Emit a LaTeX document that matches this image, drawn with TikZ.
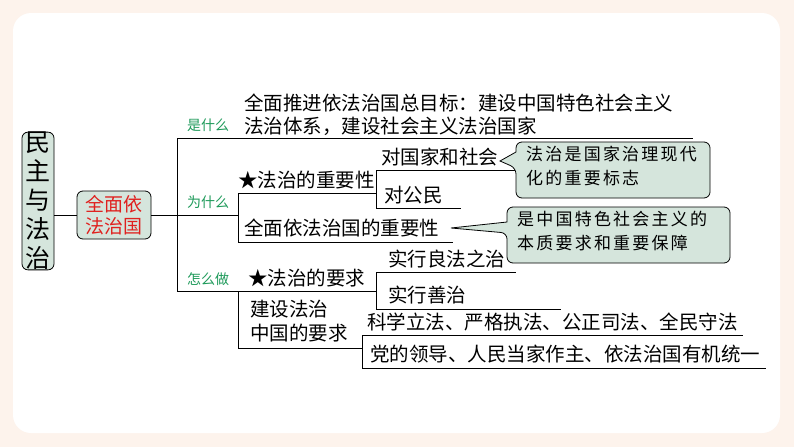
\documentclass[tikz,border=0pt]{standalone}
\usepackage{fontspec}
\setmainfont{Noto Sans CJK SC}
\definecolor{bg}{HTML}{FDF3EC}
\definecolor{boxg}{HTML}{D5E5DC}
\definecolor{lab}{HTML}{1E9A5A}
\definecolor{redt}{HTML}{E0201E}
\begin{document}
\begin{tikzpicture}[x=1pt,y=-1pt,
  t/.style={anchor=base west,inner sep=0,font=\fontsize{19.5}{22}\selectfont},
  lb/.style={anchor=base,inner sep=0,text=lab,font=\fontsize{14}{16}\selectfont},
  cl/.style={anchor=north west,inner sep=0,align=left,font=\fontsize{17}{24}\selectfont\addfontfeature{LetterSpace=13}},
  ln/.style={line width=0.9pt},
  bx/.style={draw,line width=0.8pt,fill=boxg,rounded corners=6pt}]
\fill[bg] (0,0) rectangle (794,447);
\fill[white,rounded corners=18pt] (13,13) rectangle (780,433);
\useasboundingbox (0,0) rectangle (794,447);
% root boxes
\node[bx,minimum width=32pt,minimum height=126pt,inner sep=0,
  font=\fontsize{25}{29}\selectfont,align=center] (root) at (38,201) {民\\主\\与\\法\\治};
\node[bx,minimum width=74pt,minimum height=48pt,inner sep=0,text=redt,
  font=\fontsize{19}{22}\selectfont,align=center] (qm) at (114,215) {全面依\\法治国};
\draw[ln] (root.east|-qm) -- (qm.west);
\coordinate (j) at (177,215);
\draw[ln] (qm.east) -- (j);
\draw[ln] (177,138) -- (177,291);
% top
\draw[ln] (177,138) -- (693,138);
\node[lb] (l1) at (208,130) {是什么};
\node[t] (g1) at (244,110) {全面推进依法治国总目标：建设中国特色社会主义};
\node[t] (g2) at (244,133) {法治体系，建设社会主义法治国家};
% middle
\node[lb] (l2) at (208,207) {为什么};
\draw[ln] (177,215) -- (238,215);
\draw[ln] (238,193) -- (238,242);
\draw[ln] (238,193) -- (376,193);
\draw[ln] (238,242) -- (453,242);
\node[t] (a1) at (238,187) {★法治的重要性};
\node[t] (a2) at (244,235) {全面依法治国的重要性};
\draw[ln] (376,170) -- (376,208);
\draw[ln] (376,170) -- (516,170);
\draw[ln] (376,208) -- (461,208);
\node[t] (b1) at (381,164) {对国家和社会};
\node[t] (b2) at (384,202) {对公民};
\draw[line width=0.8pt,fill=boxg,rounded corners=6pt]
  (516,152) -- (516,142) -- (710,142) -- (710,198) -- (516,198) -- (516,168)
  [sharp corners] -- (500,161) -- cycle;
\node[cl] (c1) at (526,146) {法治是国家治理现代\\化的重要标志};
\draw[line width=0.8pt,fill=boxg,rounded corners=6pt]
  (507,222) -- (507,207) -- (730,207) -- (730,263) -- (507,263) -- (507,233)
  [sharp corners] -- (451,228) -- cycle;
\node[cl] (c2) at (517,211) {是中国特色社会主义的\\本质要求和重要保障};
% bottom
\node[lb] (l3) at (208,284) {怎么做};
\draw[ln] (177,291) -- (238,291);
\draw[ln] (238,291) -- (238,348);
\draw[ln] (238,291) -- (376,291);
\node[t] (d1) at (248,285) {★法治的要求};
\draw[ln] (376,272) -- (376,309);
\draw[ln] (376,272) -- (516,272);
\draw[ln] (376,309) -- (561,309);
\node[t] (e1) at (388,266) {实行良法之治};
\node[t] (e2) at (388,302) {实行善治};
\node[t] (d2) at (250,316) {建设法治};
\node[t] (d3) at (250,340) {中国的要求};
\draw[ln] (238,348) -- (362,348);
\draw[ln] (362,335) -- (362,368);
\draw[ln] (362,335) -- (743,335);
\draw[ln] (362,368) -- (766,368);
\node[t] (f1) at (367,329) {科学立法、严格执法、公正司法、全民守法};
\node[t] (f2) at (370,361) {党的领导、人民当家作主、依法治国有机统一};
\end{tikzpicture}
\end{document}
